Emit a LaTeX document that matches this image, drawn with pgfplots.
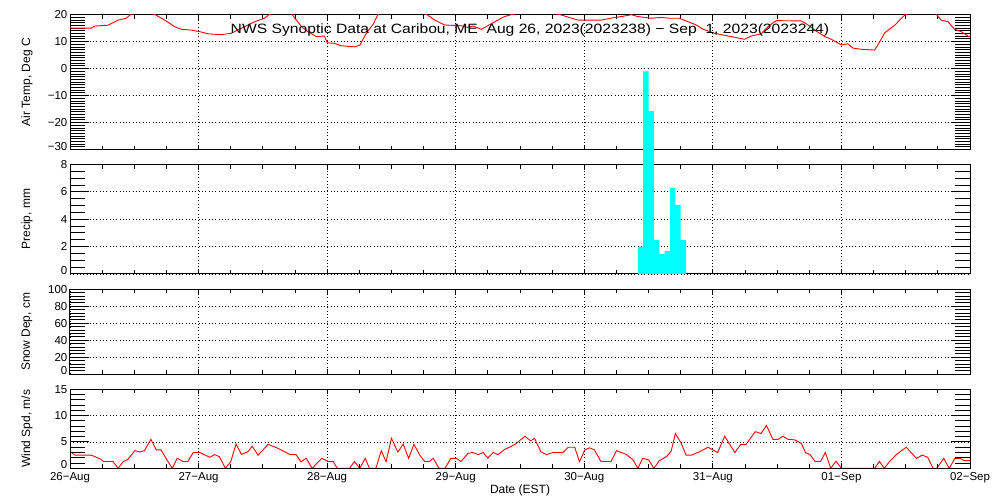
\documentclass[border=0pt]{standalone}
\usepackage{pgfplots}
\pgfplotsset{compat=1.18}
\usepackage{fontspec}
\setmainfont{Liberation Sans}
\definecolor{aqua}{RGB}{0,255,255}
\definecolor{pured}{RGB}{255,0,0}
\newcommand{\up}[1]{\raisebox{3.5pt}[\height][\depth]{#1}}
\pgfplotsset{
  panel/.style={
    scale only axis, width=900pt,
    xmin=0, xmax=168,
    xtick={0,24,...,168}, minor x tick num=3,
    xticklabels={},
    grid=major,
    major grid style={black, line width=0.9pt, dash pattern=on 1pt off 2.3pt},
    axis line style={black, line width=1pt},
    tick style={black, line width=1pt},
    xtick style={/pgfplots/major tick length=5pt,/pgfplots/minor tick length=4pt},
    ytick style={/pgfplots/major tick length=19pt,/pgfplots/minor tick length=15pt},
    tick align=inside,
    /pgf/number format/assume math mode=true,
    yticklabel style={anchor=east, inner sep=0pt, xshift=-2.5pt, font=\fontsize{11.5}{14}\selectfont},
    xticklabel style={anchor=north, inner sep=0pt, yshift=-3.5pt, font=\fontsize{11.5}{14}\selectfont},
    every axis y label/.style={at={(axis description cs:-0.0478,0.5)}, rotate=90, anchor=center, font=\fontsize{12}{14}\selectfont},
    every axis x label/.style={at={(axis description cs:0.5,-0.275)}, anchor=center, font=\fontsize{12}{14}\selectfont},
  },
}
\begin{document}
\begin{tikzpicture}
\path[use as bounding box] (0pt,0pt) rectangle (1000pt,-500pt);
% ---------- Air temperature ----------
\begin{axis}[panel, at={(70pt,-14.7pt)}, anchor=north west, height=135pt,
  ymin=-30, ymax=20, ytick={-30,-20,...,20}, yticklabels={\up{−30},−20,−10,0,10,20},
  minor y tick num=9, ylabel={Air Temp, Deg C}]
\addplot[pured, line width=0.9pt] coordinates {
(0,15)(4,15)(4.6,15.8)(7.1,16.1)(9,18)(10.5,18.7)(11.4,20.2)(13.5,21.5)(15.7,20.2)
(17.7,18)(19.5,15.6)(20.8,14.6)(22.6,14.3)(24.5,13.6)(25.8,12.9)(28.2,12.6)(30.1,13.1)
(32,15)(34.5,17.4)(36.3,18.7)(37.3,20.2)(39.3,21.5)(41.4,20.2)(43.2,15.6)(44.4,13.7)
(46,11.9)(47.5,12.1)(48,9.6)(49.4,9.4)(50.6,8.5)(53.1,8.1)(54.1,8.7)(55.3,13.1)
(56.6,16.5)(57.5,20.2)(62,23)(66.5,20.2)(68.1,18)(69.9,16.2)(73,15.9)(74.3,15.3)
(75.2,15.8)(76.8,14.6)(79.3,17.4)(81.1,19.3)(82.7,20.2)(87,22)(91.7,19.9)(93.6,18.7)
(94.8,18)(99.2,18)(101.7,19)(102.9,19.3)(104.8,20)(106,19.3)(108.5,18.7)(110.4,19)
(111.9,18.7)(113.7,18.7)(116.9,16.2)(118.2,14.6)(120.3,13.1)(123.4,11.9)(125.9,10.9)
(127.2,12.1)(129,12.9)(130.3,15.6)(131.5,17.4)(131.9,17.8)(136.5,17.7)(137.8,16.2)
(139,14.3)(140.9,11.9)(142.1,10.9)(144,8.8)(145.2,9.2)(146.2,7.6)(147.7,7.2)(150.2,6.9)
(150.8,8.8)(152.1,13.3)(154,16.2)(155.8,19.9)(158.8,22)(161.7,20.2)(162.6,18)(163.9,17.4)
(165.1,14.6)(166.4,13.7)(167.6,12.1)(168,11.8)};
\node[anchor=center, font=\fontsize{13.5}{15}\selectfont, xscale=1.16] at (axis description cs:0.5111,0.8867)
  {NWS Synoptic Data at Caribou, ME\ \ Aug 26, 2023(2023238) − Sep\ \ 1, 2023(2023244)};
\end{axis}
% ---------- Precipitation ----------
\begin{axis}[panel, at={(70pt,-164.5pt)}, anchor=north west, height=109.5pt,
  ymin=0, ymax=8, ytick={0,2,...,8}, yticklabels={\up{0},2,4,6,8},
  minor y tick num=3, clip=false, ylabel={Precip, mm}]
\addplot[ybar interval, fill=aqua, draw=none] coordinates {
(106,2.0)(107,14.8)(108,11.9)(109,2.5)(110,1.46)(111,1.68)(112,6.3)(113,5.05)(114,2.5)(115,0)};
\end{axis}
% ---------- Snow depth ----------
\begin{axis}[panel, at={(70pt,-289.3pt)}, anchor=north west, height=85pt,
  ymin=0, ymax=100, ytick={0,20,...,100}, yticklabels={\up{0},20,40,60,80,100},
  minor y tick num=4, ylabel={Snow Dep, cm}]
\end{axis}
% ---------- Wind speed ----------
\begin{axis}[panel, at={(70pt,-389.3pt)}, anchor=north west, height=79pt,
  ymin=0, ymax=15, ytick={0,5,10,15}, yticklabels={\up{0},5,10,15},
  minor y tick num=4, axis on top,
  xticklabels={26−Aug,27−Aug,28−Aug,29−Aug,30−Aug,31−Aug,01−Sep,02−Sep},
  ylabel={Wind Spd, m/s}, xlabel={Date (EST)}]
\addplot[pured, line width=0.9pt] coordinates {
(0.1,3.15)(0.9,2.5)(4,2.5)(5.8,1.7)(6.2,1.3)(8,1.3)(9,0)(9.9,1.25)(10.8,1.7)(12.1,3.35)
(13,3.1)(13.9,3.35)(15.1,5.5)(16.1,3.5)(17,3.5)(18.3,1.25)(19.1,0)(20,1.9)(21.1,1.3)
(22,1.3)(23,3.0)(24.2,3.0)(26.1,2.1)(27,2.6)(27.9,2.2)(29,0)(30,1.25)(31,4.6)(32,2.65)
(33.2,3.15)(34,4.2)(35.1,2.5)(37,4.55)(38.8,3.8)(41,2.65)(42.2,2.6)(43.1,1.25)(44.1,1.9)
(45.2,0)(47,1.9)(48.2,1.3)(49.1,1.3)(49.9,0)(52.2,0)(53.1,1.3)(54.1,0)(55.1,1.9)(55.9,0)
(57.1,0)(58.1,3.35)(59,1.25)(60,5.7)(61.2,3.1)(62.2,4.6)(63.2,1.9)(64.2,4.55)(65.3,2.5)
(66.2,1.3)(67.1,1.3)(67.8,1.9)(68.9,0)(70,0)(71.1,1.9)(72.1,1.9)(73,1.3)(74.3,2.85)
(75.2,3.0)(76.2,2.6)(77.1,3.0)(78,1.95)(79,3.0)(79.9,2.6)(81.1,3.55)(82.4,4.2)(83.3,4.7)
(84.9,6.1)(86,5.2)(86.7,5.7)(87.9,3.15)(88.9,2.6)(90.2,3.0)(92,3.0)(93,4.0)(94.2,4.0)
(95.1,1.25)(96.1,3.5)(97,3.9)(97.9,3.5)(99.1,1.3)(101,1.3)(102,3.35)(103.8,2.65)(105.1,1.6)
(106,0)(106.9,1.9)(108,1.6)(109,0)(110,1.45)(111.3,2.2)(112.2,3.2)(113,6.6)(114.1,4.75)
(115,2.5)(116,2.5)(117.5,3.15)(119.1,4.0)(120.9,3.0)(122.2,6.1)(124.1,3.0)(125.2,4.55)
(126.2,4.55)(127.9,6.95)(129,6.6)(130,8.15)(131.2,5.5)(132.2,5.5)(133.1,6.1)(134,5.5)
(135.3,5.4)(136.5,4.75)(137.3,2.95)(138.1,2.65)(139.1,1.3)(140.1,1.3)(141,3.0)(142,0)
(143,1.35)(144,0)(150.2,0)(151.1,1.3)(152,0)(153,1.3)(154.3,2.65)(156.1,4.0)(158,1.9)
(159.1,2.5)(160.1,2.1)(161.1,0)(161.8,0)(163.1,1.9)(164.1,0)(165.2,1.9)(166.2,1.9)
(166.9,1.45)(168,1.45)};
\end{axis}
\end{tikzpicture}
\end{document}
